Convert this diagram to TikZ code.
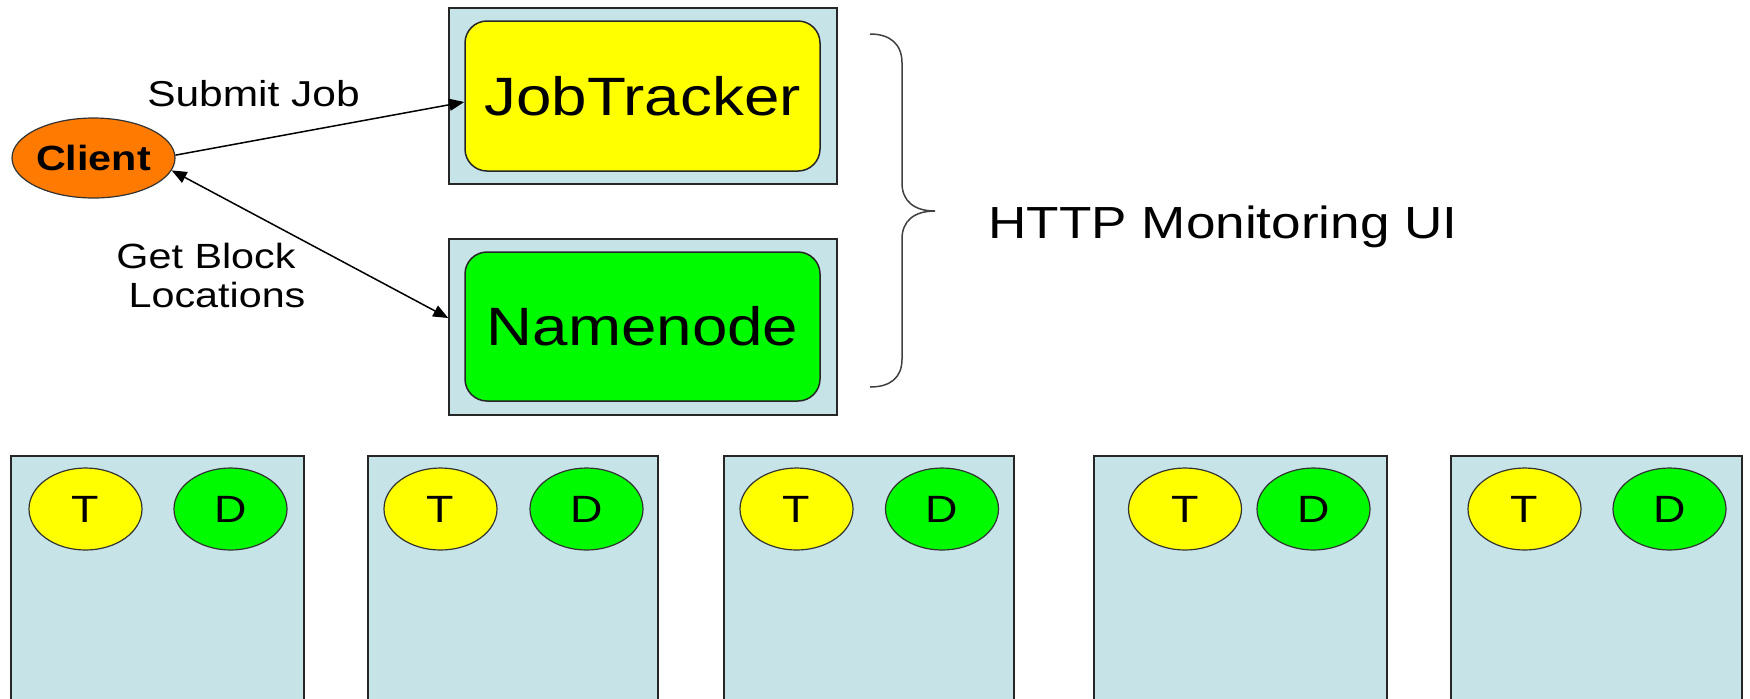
\documentclass[tikz,border=0pt]{standalone}
\usepackage{fontspec}
\setmainfont{Liberation Sans}
\usetikzlibrary{arrows.meta,shapes.geometric}
\definecolor{boxblue}{RGB}{198,228,232}
\definecolor{jtyellow}{RGB}{255,255,0}
\definecolor{nngreen}{RGB}{0,250,0}
\definecolor{clientorange}{RGB}{255,122,0}
\newcommand{\sx}[1]{\scalebox{1.18}[1]{#1}}
\begin{document}
\begin{tikzpicture}[x=0.5pt,y=-0.5pt,
  outerbox/.style={draw=black!85,line width=0.75pt,fill=boxblue,rectangle,inner sep=0pt},
  innerbox/.style={draw=black!85,line width=0.75pt,rectangle,rounded corners=11pt,inner sep=0pt,
    minimum width=177.5pt,minimum height=75pt,font=\fontsize{27pt}{32pt}\selectfont},
  proc/.style={draw=black!80,line width=0.6pt,ellipse,inner sep=0pt,minimum width=56.5pt,
    minimum height=41pt,font=\fontsize{19pt}{22pt}\selectfont},
  lbl/.style={inner sep=0pt,anchor=base,font=\fontsize{18pt}{21pt}\selectfont},
  conn/.style={line width=0.75pt,-{Triangle[length=7.5pt,width=6pt]}},
  biconn/.style={line width=0.75pt,{Triangle[length=7.5pt,width=6pt]}-{Triangle[length=7.5pt,width=6pt]}},
]
\useasboundingbox (0,0) rectangle (1750,698);
\clip (0,0) rectangle (1750,698);

% master boxes
\node[outerbox,minimum width=194pt,minimum height=88pt] (jtout) at (643,96) {};
\node[innerbox,fill=jtyellow] (jt) at (642.5,96) {\sx{JobTracker}};
\node[outerbox,minimum width=194pt,minimum height=88pt] (nnout) at (643,327) {};
\node[innerbox,fill=nngreen,minimum height=74.5pt] (nn) at (642.5,326.5) {\sx{Namenode}};

% client
\node[draw=black!80,line width=0.6pt,ellipse,fill=clientorange,inner sep=0pt,
  minimum width=81.5pt,minimum height=40pt,
  font=\fontsize{17.5pt}{20pt}\selectfont\bfseries] (client) at (93.5,158) {\sx{Client}};

% connectors
\draw[conn] (client.2) -- ([yshift=-3pt]jt.west);
\draw[biconn] (client.-9) -- ([yshift=4.5pt]nnout.west);

% labels
\node[lbl] (submit) at (253.5,106) {\sx{Submit Job}};
\node[lbl,font=\fontsize{17.5pt}{20pt}\selectfont] (gb1) at (206,268) {\sx{Get Block}};
\node[lbl,font=\fontsize{17.5pt}{20pt}\selectfont] (gb2) at (217,307) {\sx{Locations}};

% brace
\draw[line width=0.75pt,black!75]
  (870,34) .. controls (890,34) and (902,44) .. (902,63) -- (902,183)
  .. controls (902,201) and (914,211) .. (935,211)
  .. controls (914,211) and (902,221) .. (902,239) -- (902,359)
  .. controls (902,378) and (890,387) .. (870,387);
\node[lbl,font=\fontsize{22.5pt}{26pt}\selectfont] (http) at (1223,238) {\sx{HTTP Monitoring UI}};

% slave boxes
\node[outerbox,anchor=north,minimum width=146.5pt,minimum height=140pt] (s1) at (157.5,455) {};
\node[outerbox,anchor=north,minimum width=145pt,minimum height=140pt] (s2) at (513,455) {};
\node[outerbox,anchor=north,minimum width=145pt,minimum height=140pt] (s3) at (869,455) {};
\node[outerbox,anchor=north,minimum width=146.5pt,minimum height=140pt] (s4) at (1240.5,455) {};
\node[outerbox,anchor=north,minimum width=145.5pt,minimum height=140pt] (s5) at (1596.5,455) {};

\node[proc,fill=jtyellow] (t1) at (85.5,509) {\sx{T}};
\node[proc,fill=nngreen] (d1) at (230.5,509) {\sx{D}};
\node[proc,fill=jtyellow] (t2) at (440.5,509) {\sx{T}};
\node[proc,fill=nngreen] (d2) at (586.5,509) {\sx{D}};
\node[proc,fill=jtyellow] (t3) at (796.5,509) {\sx{T}};
\node[proc,fill=nngreen] (d3) at (942,509) {\sx{D}};
\node[proc,fill=jtyellow] (t4) at (1185,509) {\sx{T}};
\node[proc,fill=nngreen] (d4) at (1313.5,509) {\sx{D}};
\node[proc,fill=jtyellow] (t5) at (1524.5,509) {\sx{T}};
\node[proc,fill=nngreen] (d5) at (1669.5,509) {\sx{D}};
\end{tikzpicture}
\end{document}
